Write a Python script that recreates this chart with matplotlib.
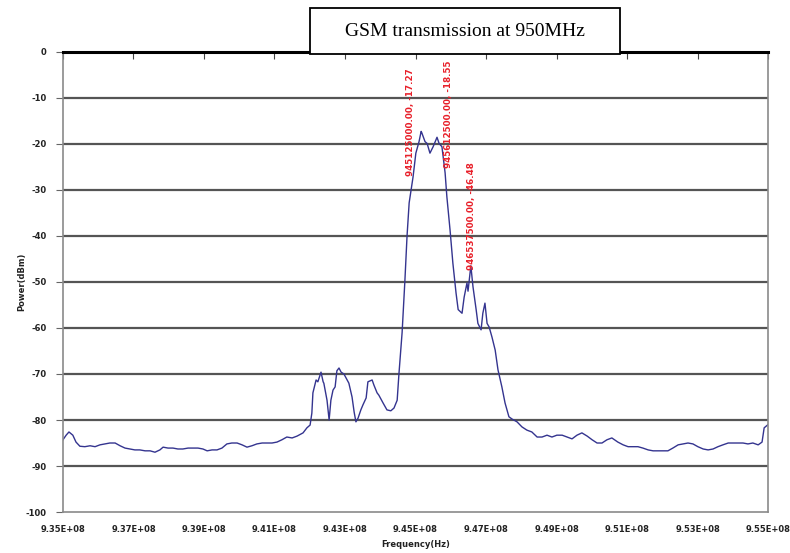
import matplotlib.pyplot as plt
from matplotlib.patches import Rectangle

plt.rcParams['axes.unicode_minus'] = False

# spectrum trace: frequency in MHz, power in dBm
freq_mhz = [
    935.00, 935.09, 935.17, 935.28, 935.37, 935.48, 935.62, 935.77, 935.91, 936.05,
    936.19, 936.33, 936.48, 936.62, 936.76, 936.90, 937.04, 937.18, 937.33, 937.47,
    937.61, 937.75, 937.84, 937.98, 938.12, 938.26, 938.40, 938.55, 938.69, 938.83,
    938.97, 939.09, 939.23, 939.37, 939.51, 939.65, 939.79, 939.94, 940.08, 940.22,
    940.36, 940.50, 940.65, 940.79, 940.93, 941.07, 941.21, 941.35, 941.50, 941.64,
    941.81, 941.92, 942.01, 942.06, 942.09, 942.18, 942.23, 942.32, 942.38, 942.40,
    942.49, 942.55, 942.60, 942.66, 942.72, 942.77, 942.83, 942.89, 942.97, 943.06,
    943.11, 943.20, 943.26, 943.31, 943.37, 943.45, 943.51, 943.60, 943.65, 943.77,
    943.82, 943.91, 943.96, 944.08, 944.19, 944.30, 944.39, 944.48, 944.53, 944.62,
    944.70, 944.76, 944.82, 944.93, 945.01, 945.10, 945.16, 945.18, 945.27, 945.33,
    945.41, 945.50, 945.61, 945.67, 945.75, 945.84, 945.89, 945.98, 946.06, 946.15,
    946.21, 946.32, 946.38, 946.46, 946.49, 946.57, 946.63, 946.72, 946.77, 946.86,
    946.91, 946.97, 947.03, 947.09, 947.17, 947.26, 947.34, 947.45, 947.54, 947.65,
    947.74, 947.88, 948.02, 948.16, 948.30, 948.45, 948.59, 948.73, 948.87, 949.01,
    949.16, 949.30, 949.44, 949.58, 949.72, 949.87, 950.01, 950.15, 950.29, 950.43,
    950.57, 950.74, 950.89, 951.03, 951.17, 951.31, 951.45, 951.60, 951.74, 951.88,
    952.02, 952.16, 952.30, 952.45, 952.59, 952.73, 952.87, 953.01, 953.16, 953.30,
    953.44, 953.58, 953.72, 953.87, 954.01, 954.15, 954.29, 954.43, 954.57, 954.72,
    954.83, 954.89, 955.00,
]
power_dbm = [
    -84.3, -83.3, -82.6, -83.3, -84.8, -85.7, -85.8, -85.6, -85.8, -85.4,
    -85.2, -85.0, -85.0, -85.6, -86.1, -86.3, -86.5, -86.5, -86.7, -86.7,
    -87.0, -86.5, -85.9, -86.1, -86.1, -86.3, -86.3, -86.1, -86.1, -86.1,
    -86.3, -86.7, -86.5, -86.5, -86.1, -85.2, -85.0, -85.0, -85.4, -85.9,
    -85.6, -85.2, -85.0, -85.0, -85.0, -84.8, -84.3, -83.7, -83.9, -83.5,
    -82.8, -81.7, -81.1, -78.5, -74.1, -71.3, -71.7, -69.6, -71.7, -72.0,
    -75.7, -80.0, -75.7, -73.5, -72.8, -69.3, -68.7, -69.6, -70.0, -71.3,
    -72.0, -75.0, -78.3, -80.4, -79.6, -77.8, -76.7, -75.2, -71.7, -71.3,
    -72.4, -74.1, -74.6, -76.3, -77.8, -78.0, -77.4, -75.7, -70.0, -61.0,
    -49.6, -40.0, -32.8, -27.2, -22.0, -19.5, -17.27, -17.6, -19.5, -19.9,
    -22.0, -20.6, -18.55, -19.9, -20.6, -26.3, -31.5, -38.7, -45.9, -52.4,
    -56.0, -56.8, -53.3, -50.2, -52.0, -46.48, -51.0, -56.0, -59.0, -60.4,
    -56.8, -54.6, -59.0, -59.8, -62.0, -64.8, -69.1, -72.8, -76.3, -79.3,
    -79.8, -80.4, -81.5, -82.2, -82.6, -83.7, -83.7, -83.3, -83.7, -83.3,
    -83.3, -83.7, -84.1, -83.3, -82.8, -83.5, -84.3, -85.0, -85.0, -84.3,
    -83.9, -84.8, -85.4, -85.8, -85.8, -85.8, -86.1, -86.5, -86.7, -86.7,
    -86.7, -86.7, -86.1, -85.4, -85.2, -85.0, -85.2, -85.8, -86.3, -86.5,
    -86.3, -85.8, -85.4, -85.0, -85.0, -85.0, -85.0, -85.2, -85.0, -85.4,
    -84.8, -81.7, -81.0,
]

# marker labels
marker_freq_hz = [945125000.00, 945612500.00, 946537500.00]
marker_power = [-17.27, -18.55, -46.48]

x_ticks_hz = [9.35e8 + i * 2e6 for i in range(11)]
y_ticks = list(range(0, -101, -10))

fig = plt.figure(figsize=(7.9, 5.53), dpi=100)
ax = fig.add_axes([0.0797, 0.0741, 0.8925, 0.832])

ax.plot([f * 1e6 for f in freq_mhz], power_dbm, color='#34348f', lw=1.0)

ax.set_xlim(9.35e8, 9.55e8)
ax.set_ylim(-100, 0)
ax.set_xticks(x_ticks_hz)
ax.set_xticklabels(['%.2E' % v for v in x_ticks_hz])
ax.set_yticks(y_ticks)

for y in y_ticks[1:-1]:
    ax.axhline(y, color='#555555', lw=1.6, zorder=0)

for side in ['left', 'right', 'bottom']:
    ax.spines[side].set_color('#8a8a8a')
    ax.spines[side].set_linewidth(1.2)
ax.spines['top'].set_color('black')
ax.spines['top'].set_linewidth(2.2)

ax.tick_params(axis='x', top=True, bottom=False, direction='in', length=5,
               color='#444444', labelsize=6, pad=9, labelcolor='#222222')
ax.tick_params(axis='y', direction='out', length=5, color='#666666',
               labelsize=6, pad=7, labelcolor='#222222')
for lab in ax.get_xticklabels() + ax.get_yticklabels():
    lab.set_fontweight('bold')

ax.set_xlabel('Frequency(Hz)', fontsize=6, fontweight='bold', labelpad=5, color='#222222')
ax.set_ylabel('Power(dBm)', fontsize=6, fontweight='bold', labelpad=-1, color='#222222')

# red marker labels next to the peaks (offsets in points)
offsets = [(-6.5, -32), (8, -22), (1, -3)]
for f, p, off in zip(marker_freq_hz, marker_power, offsets):
    ax.annotate('%.2f, %.2f' % (f, p), xy=(f, p), xytext=off,
                textcoords='offset points', rotation=90, ha='center', va='bottom',
                color='#e8202a', fontsize=6.3, fontweight='bold')

# boxed title
fig.patches.append(Rectangle((0.392, 0.902), 0.393, 0.083, transform=fig.transFigure,
                             facecolor='white', edgecolor='black', lw=1.3, zorder=5))
fig.text(0.5885, 0.943, 'GSM transmission at 950MHz', family='Liberation Serif',
         fontsize=14, ha='center', va='center', zorder=6)

plt.savefig('out.png', dpi=100)
